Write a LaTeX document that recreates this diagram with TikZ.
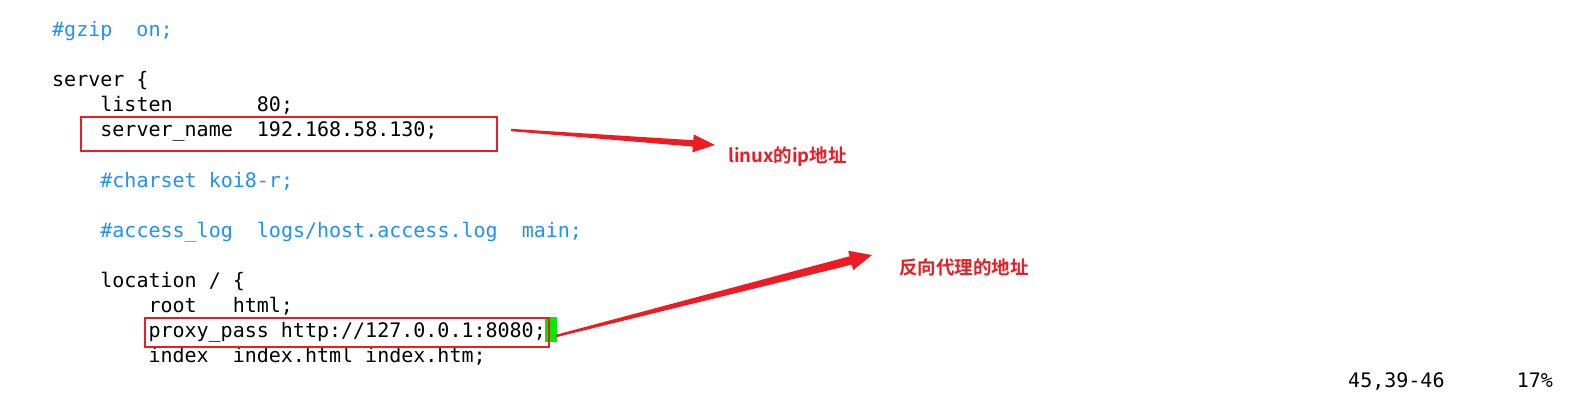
\documentclass[tikz,border=0pt]{standalone}
\usepackage{fontspec}
\usetikzlibrary{calc}
\newfontfamily\monofont{DejaVu Sans Mono}
\newfontfamily\cjkfont{Noto Sans CJK SC}[BoldFont={Noto Sans CJK SC Bold}]
\definecolor{cmtblue}{RGB}{30,144,255}
\definecolor{annred}{RGB}{237,28,36}
\definecolor{cursorgreen}{RGB}{0,235,0}
% tapered annotation arrow: #1 start, #2 tip, #3 start half-width, #4 shaft half-width at head, #5 head half-width
\newcommand\taperarrow[5]{%
  \coordinate (#1-h) at ($(#2)!22pt!(#1)$);
  \fill[annred] ($(#1)!#3!90:(#2)$) -- ($(#1-h)!#4!90:(#2)$) -- ($(#1-h)!#5!90:(#2)$)
    -- (#2) -- ($(#1-h)!#5!-90:(#2)$) -- ($(#1-h)!#4!-90:(#2)$) -- ($(#1)!#3!-90:(#2)$) -- cycle;
}
\begin{document}
\begin{tikzpicture}[x=1pt,y=-1pt,
  code/.style={anchor=base west, inner sep=0pt, text=black,
    font=\monofont\fontsize{20}{24}\selectfont},
  comment/.style={code, text=cmtblue},
  redbox/.style={draw=annred, line width=2pt, inner sep=0pt, fill=none},
  cursorbox/.style={fill=cursorgreen, inner sep=0pt, minimum width=12pt, minimum height=25pt},
  annlabel/.style={anchor=west, inner sep=0pt, text=annred,
    font=\cjkfont\bfseries\fontsize{18.5}{22}\selectfont}]
\useasboundingbox (0,0) rectangle (1570,400);
\fill[white] (0,0) rectangle (1570,400);
% code lines: baseline = 36.5 + 25.08*row, x = 52 + 12.04*col
\node[comment] (l0)  at (52,36.5)   {\#gzip~~on;};
\node[code]    (l2)  at (52,86.7)   {server~\{};
\node[code]    (l3)  at (100.2,111.7) {listen~~~~~~~80;};
\node[code]    (l4)  at (100.2,136.8) {server\_name~~192.168.58.130;};
\node[comment] (l6)  at (100.2,187.0) {\#charset~koi8-r;};
\node[comment] (l8)  at (100.2,237.1) {\#access\_log~~logs/host.access.log~~main;};
\node[code]    (l10) at (100.2,287.3) {location~/~\{};
\node[code]    (l11) at (148.3,312.4) {root~~~html;};
\node[code]    (l12) at (148.3,337.5) {proxy\_pass~http://127.0.0.1:8080;};
\node[code]    (l13) at (148.3,362.5) {index~~index.html~index.htm;};
\node[code]    (status) at (1348,387) {45,39-46~~~~~~17\%};
% cursor
\node[cursorbox] (cursor) at (551,329.5) {};
% red boxes
\node[redbox, minimum width=416pt, minimum height=34pt] (box1) at (289,134) {};
\node[redbox, minimum width=404pt, minimum height=29pt] (box2) at (347,332.5) {};
% labels
\node[annlabel] (lbl1) at (728,157) {linux的ip地址};
\node[annlabel] (lbl2) at (899,267) {反向代理的地址};
% arrows
\coordinate (a1s) at (511,130);
\coordinate (a1t) at (715,145);
\coordinate (a2s) at (556,336);
\coordinate (a2t) at (872,255);
\taperarrow{a1s}{a1t}{1.2pt}{3.2pt}{9pt}
\taperarrow{a2s}{a2t}{1.2pt}{4.3pt}{10pt}
\end{tikzpicture}
\end{document}
